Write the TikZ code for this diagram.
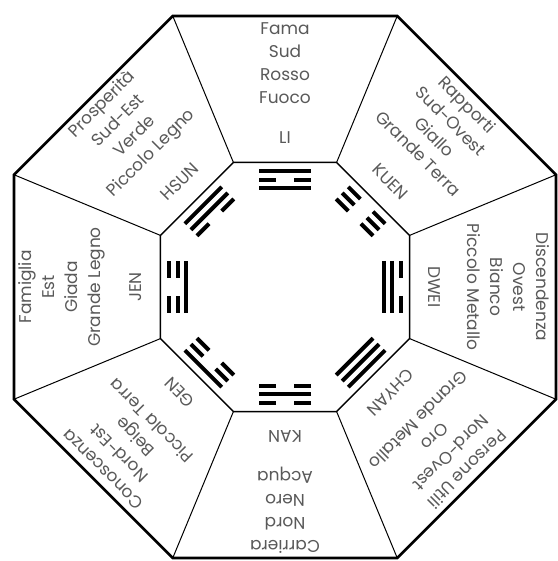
\documentclass[tikz,border=0pt]{standalone}
\usepackage{fontspec}
\setmainfont{Poppins}
\newcommand\yaoline[2]{%
  \ifnum#2=1
    \draw[bar] (-26,#1) -- (26,#1);
  \else
    \draw[bar] (-26,#1) -- (-9,#1) (9,#1) -- (26,#1);
  \fi}
\newcommand\trigram[4]{%
  \begin{scope}[rotate=#1-90]
    \yaoline{115.5}{#2}\yaoline{107}{#3}\yaoline{98.5}{#4}
  \end{scope}}
\newcommand\sectortext[4]{%
  \node[lbl, rotate=#1-90] (t#2) at (#1:223.5) {#3};
  \node[gua, rotate=#1-90] (g#2) at (#1:149) {#4};}
\begin{document}
\begin{tikzpicture}[x=1pt,y=1pt,
  outer/.style={line width=2.6pt, line join=miter},
  inner/.style={line width=1.5pt, line join=miter},
  spoke/.style={line width=1pt},
  bar/.style={line width=4pt, line cap=butt},
  lbl/.style={text=black!65, font=\fontsize{17}{23}\selectfont, align=center, inner sep=0pt},
  gua/.style={text=black!65, font=\fontsize{17}{20}\selectfont, inner sep=0pt}]
\fill[white] (-285,-274) rectangle (272,287);
\useasboundingbox (-285,-274) rectangle (272,287);
\foreach \k in {0,...,7} {
  \coordinate (O\k) at ({22.5+45*\k}:293.3);
  \coordinate (I\k) at ({22.5+45*\k}:134.8);
}
\foreach \k in {0,...,7} \draw[spoke] (I\k) -- (O\k);
\draw[outer] (O0) -- (O1) -- (O2) -- (O3) -- (O4) -- (O5) -- (O6) -- (O7) -- cycle;
\draw[inner] (I0) -- (I1) -- (I2) -- (I3) -- (I4) -- (I5) -- (I6) -- (I7) -- cycle;
% trigrams (outer, middle, inner line; 1 = solid, 0 = broken)
\trigram{90}{1}{0}{1}
\trigram{45}{0}{0}{0}
\trigram{0}{0}{1}{1}
\trigram{-45}{1}{1}{1}
\trigram{-90}{0}{1}{0}
\trigram{-135}{1}{0}{0}
\trigram{180}{0}{0}{1}
\trigram{135}{1}{1}{0}
% texts
\sectortext{90}{li}{Fama\\Sud\\Rosso\\Fuoco}{LI}
\sectortext{45}{kuen}{Rapporti\\Sud-Ovest\\Giallo\\Grande Terra}{KUEN}
\sectortext{0}{dwei}{Discendenza\\Ovest\\Bianco\\Piccolo Metallo}{DWEI}
\sectortext{-45}{chyan}{Persone Utili\\Nord-Ovest\\Oro\\Grande Metallo}{CHYAN}
\sectortext{-90}{kan}{Carriera\\Nord\\Nero\\Acqua}{KAN}
\sectortext{-135}{gen}{Conoscenza\\Nord-Est\\Beige\\Piccola Terra}{GEN}
\sectortext{180}{jen}{Famiglia\\Est\\Giada\\Grande Legno}{JEN}
\sectortext{135}{hsun}{Prosperità\\Sud-Est\\Verde\\Piccolo Legno}{HSUN}
\end{tikzpicture}
\end{document}
